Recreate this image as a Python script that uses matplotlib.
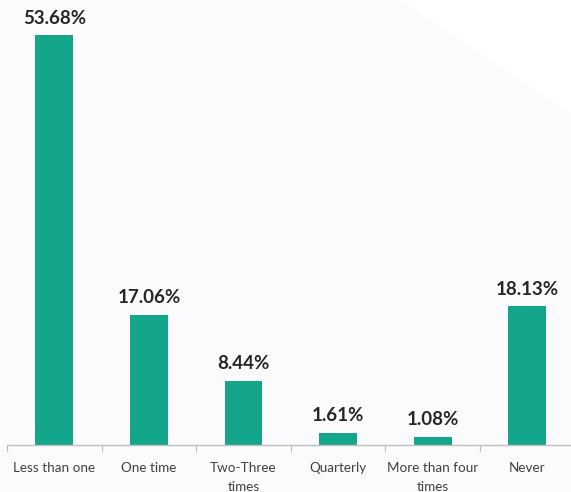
import matplotlib.pyplot as plt
import matplotlib.patches as mpatches
import numpy as np

categories = ["Less than one", "One time", "Two-Three\ntimes", "Quarterly",
              "More than four\ntimes", "Never"]
values = [53.68, 17.06, 8.44, 1.61, 1.08, 18.13]

BAR_COLOR = "#14a68a"
W, H = 571, 492

fig = plt.figure(figsize=(W / 100, H / 100), dpi=100)
fig.patch.set_facecolor("white")

# faint diagonal shading in the background
shade = mpatches.Polygon([(0, 0), (0, 1), (0.70, 1), (1, 0.77), (1, 0)],
                         closed=True, transform=fig.transFigure,
                         facecolor="#fbfbfe", edgecolor="none", zorder=-10)
fig.patches.append(shade)

ax = fig.add_axes([7 / W, 47 / H, 567.6 / W, 445 / H])
ax.patch.set_alpha(0)

x = np.arange(len(categories))
ax.bar(x, values, width=0.4, color=BAR_COLOR, zorder=2)

for xi, v in zip(x, values):
    ax.annotate(f"{v:.2f}%", (xi, v), xytext=(0, 6), textcoords="offset points",
                ha="center", va="bottom", fontsize=13.5, fontweight="bold",
                color="#262626", family="Lato")

ax.set_xlim(-0.5, len(categories) - 0.5)
ax.set_ylim(0, 58.25)

for s in ["top", "right", "left"]:
    ax.spines[s].set_visible(False)
ax.spines["bottom"].set_color("#bfbfbf")
ax.spines["bottom"].set_linewidth(1)

ax.set_yticks([])
ax.set_xticks(np.arange(-0.5, len(categories), 1.0))
ax.set_xticklabels([])
ax.set_xticks(x, minor=True)
ax.set_xticklabels(categories, minor=True, fontsize=9.7, color="#404040",
                   family="Lato", linespacing=1.75)
ax.tick_params(axis="x", which="major", length=5, color="#bfbfbf")
ax.tick_params(axis="x", which="minor", length=0, pad=12)

fig.savefig("out.png", dpi=100, facecolor=fig.get_facecolor())
